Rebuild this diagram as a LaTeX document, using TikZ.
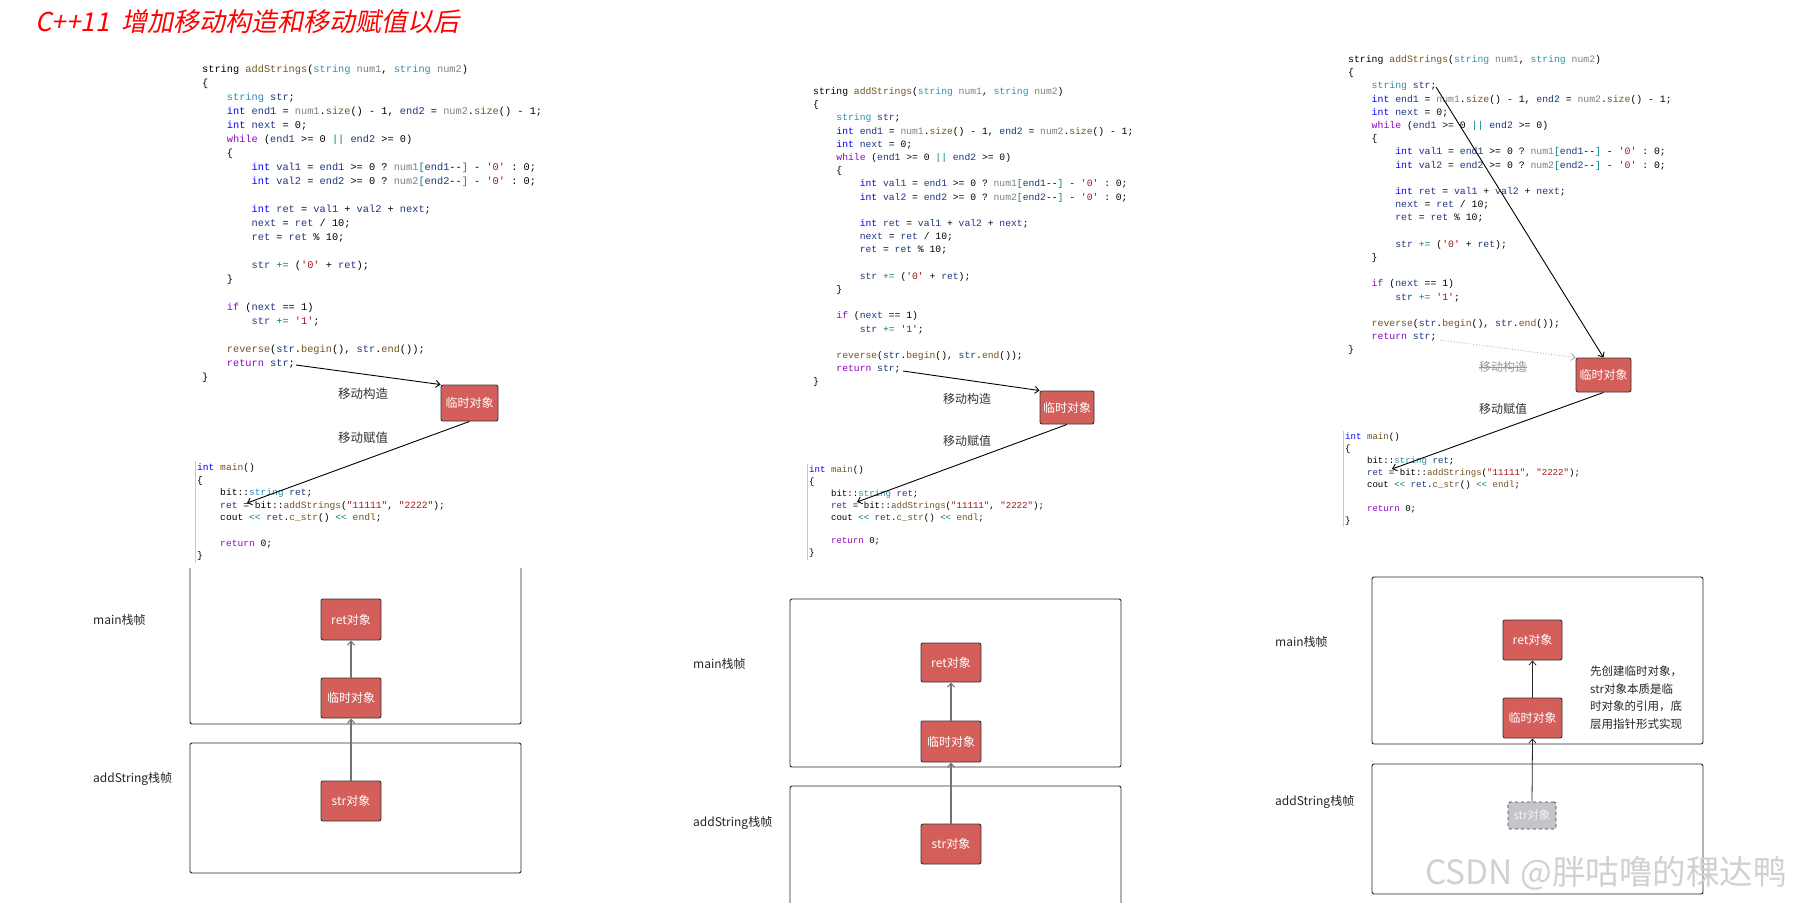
\documentclass[tikz,border=0pt]{standalone}
\usepackage{fontspec}
\setmainfont{Noto Sans CJK SC}
\setmonofont{Liberation Mono}
\newfontfamily\titlefont{Noto Sans CJK SC}[FakeSlant=0.2]
\usetikzlibrary{arrows.meta}
\definecolor{kwblue}{HTML}{0000FF}
\definecolor{kwpurple}{HTML}{8F08C4}
\definecolor{typeteal}{HTML}{2B91AF}
\definecolor{paramgray}{HTML}{808080}
\definecolor{fnbrown}{HTML}{74531F}
\definecolor{localnavy}{HTML}{1F377F}
\definecolor{strred}{HTML}{A31515}
\definecolor{opteal}{HTML}{008080}
\definecolor{boxred}{HTML}{D45E5A}
\definecolor{ghostfill}{HTML}{C4C5CA}
\newcommand\ckw[1]{\textcolor{kwblue}{#1}}
\newcommand\cct[1]{\textcolor{kwpurple}{#1}}
\newcommand\cty[1]{\textcolor{typeteal}{#1}}
\newcommand\cpa[1]{\textcolor{paramgray}{#1}}
\newcommand\cfn[1]{\textcolor{fnbrown}{#1}}
\newcommand\cva[1]{\textcolor{localnavy}{#1}}
\newcommand\cst[1]{\textcolor{strred}{#1}}
\newcommand\cop[1]{\textcolor{opteal}{#1}}
\newcommand\tb{\hphantom{xxxx}}
\newcommand\tbb{\hphantom{xxxxxxxx}}
\newcommand\addstrcode{%
\begin{tabular}[t]{@{}l@{}}
string \cfn{addStrings}(\cty{string} \cpa{num1}, \cty{string} \cpa{num2})\\
\{\\
\tb\cty{string} \cva{str};\\
\tb\ckw{int} \cva{end1} = \cpa{num1}.\cfn{size}() - 1, \cva{end2} = \cpa{num2}.\cfn{size}() - 1;\\
\tb\ckw{int} \cva{next} = 0;\\
\tb\cct{while} (\cva{end1} >= 0 \cop{||} \cva{end2} >= 0)\\
\tb\{\\
\tbb\ckw{int} \cva{val1} = \cva{end1} >= 0 ? \cpa{num1}\cop{[}\cva{end1}-{}-\cop{]} - \cst{'0'} : 0;\\
\tbb\ckw{int} \cva{val2} = \cva{end2} >= 0 ? \cpa{num2}\cop{[}\cva{end2}-{}-\cop{]} - \cst{'0'} : 0;\\
~\\
\tbb\ckw{int} \cva{ret} = \cva{val1} + \cva{val2} + \cva{next};\\
\tbb\cva{next} = \cva{ret} / 10;\\
\tbb\cva{ret} = \cva{ret} \% 10;\\
~\\
\tbb\cva{str} \cop{+=} (\cst{'0'} + \cva{ret});\\
\tb\}\\
~\\
\tb\cct{if} (\cva{next} == 1)\\
\tbb\cva{str} \cop{+=} \cst{'1'};\\
~\\
\tb\cfn{reverse}(\cva{str}.\cfn{begin}(), \cva{str}.\cfn{end}());\\
\tb\cct{return} \cva{str};\\
\}
\end{tabular}}
\newcommand\maincode{%
\begin{tabular}[t]{@{}l@{}}
\ckw{int} \cfn{main}()\\
\{\\
\tb bit::\cty{string} \cva{ret};\\
\tb\cva{ret} = bit::\cfn{addStrings}(\cst{"11111"}, \cst{"2222"});\\
\tb cout \cop{<<} \cva{ret}.\cfn{c\_str}() \cop{<<} \cfn{endl};\\
~\\
\tb\cct{return} 0;\\
\}
\end{tabular}}
\tikzset{
  codeblk/.style={anchor=base west, inner sep=0pt, text=black},
  lbl/.style={inner sep=0pt, text=black!80, font=\fontsize{12.5}{14}\selectfont},
  framelbl/.style={anchor=west, inner sep=0pt, text=black!85, font=\fontsize{12}{14}\selectfont},
  redbox/.style={draw=black!80, fill=boxred, rounded corners=2pt, text=white,
    font=\fontsize{12}{14}\selectfont, inner sep=0pt, line width=0.9pt},
  ghostbox/.style={draw=black!75, dashed, fill=ghostfill, rounded corners=2pt, text=white!95!black,
    font=\fontsize{11.5}{14}\selectfont, inner sep=0pt, line width=0.8pt},
  framest/.style={draw=black!85, line width=0.9pt, rounded corners=2pt},
  guide/.style={draw=black!22, line width=0.6pt},
  movearrow/.style={draw=black, line width=0.9pt, -{Straight Barb[length=4pt,width=7pt]}},
  ghostarrow/.style={draw=black!35, line width=0.8pt, dotted, -{Straight Barb[length=4pt,width=7pt]}},
  grayarrow/.style={draw=black!55, line width=1.6pt, -{Straight Barb[length=4pt,width=7pt,line width=1pt]}},
  thinarrow/.style={draw=black!85, line width=0.8pt, -{Straight Barb[length=4pt,width=7pt]}},
}
\begin{document}
\begin{tikzpicture}[x=1pt,y=-1pt]
\useasboundingbox[fill=white] (0,0) rectangle (1817,902);

% title
\node[anchor=west, inner sep=0pt, text=red, font=\titlefont\fontsize{26}{30}\selectfont] (title) at (35,22) {C++11\hspace{12pt}增加移动构造和移动赋值以后};

% ---------------- panel 1 ----------------
\node[codeblk, font=\ttfamily\frenchspacing\fontsize{10.3}{14}\selectfont] (code1) at (202,72.6) {\addstrcode};
\node[codeblk, font=\ttfamily\frenchspacing\fontsize{9.6}{12.6}\selectfont] (main1) at (197,470.5) {\maincode};
\draw[guide] ([xshift=-2pt]main1.north west) -- ([xshift=-2pt]main1.south west);
\node[redbox, minimum width=57pt, minimum height=36pt] (tmp1) at (469.5,403) {临时对象};
\node[lbl] (mc1) at (363,394) {移动构造};
\node[lbl] (ma1) at (363,438) {移动赋值};
\coordinate (r1) at (296,365);
\coordinate (e1) at (247,503);
\draw[movearrow] (r1) -- (tmp1.north west);
\draw[movearrow] (tmp1.south) -- (e1);

\draw[framest] (190,568) -- (190,724) -- (521,724) -- (521,568);
\draw[framest] (190,743) rectangle (521,873);
\node[framelbl] (mf1) at (93,620) {main栈帧};
\node[framelbl] (af1) at (93,779) {addString栈帧};
\node[redbox, minimum width=60pt, minimum height=41pt] (ret1) at (351,619.5) {ret对象};
\node[redbox, minimum width=60pt, minimum height=40pt] (t1) at (351,698) {临时对象};
\node[redbox, minimum width=60pt, minimum height=40pt] (s1) at (351,801) {str对象};
\draw[grayarrow] (t1.north) -- (ret1.south);
\draw[grayarrow] (s1.north) -- (t1.south);

% ---------------- panel 2 ----------------
\node[codeblk, font=\ttfamily\frenchspacing\fontsize{9.7}{13.2}\selectfont] (code2) at (813,94.5) {\addstrcode};
\node[codeblk, font=\ttfamily\frenchspacing\fontsize{9.1}{11.9}\selectfont] (main2) at (809,472.5) {\maincode};
\draw[guide] ([xshift=-2pt]main2.north west) -- ([xshift=-2pt]main2.south west);
\node[redbox, minimum width=54pt, minimum height=33pt] (tmp2) at (1067,407.5) {临时对象};
\node[lbl, font=\fontsize{12}{14}\selectfont] (mc2) at (967,399) {移动构造};
\node[lbl, font=\fontsize{12}{14}\selectfont] (ma2) at (967,441) {移动赋值};
\coordinate (r2) at (903,371);
\coordinate (e2) at (857,502);
\draw[movearrow] (r2) -- (tmp2.north west);
\draw[movearrow] (tmp2.south) -- (e2);

\draw[framest] (790,599) rectangle (1121,767);
\draw[framest] (790,910) -- (790,786) -- (1121,786) -- (1121,910);
\node[framelbl] (mf2) at (693,664) {main栈帧};
\node[framelbl] (af2) at (693,823) {addString栈帧};
\node[redbox, minimum width=60pt, minimum height=39pt] (ret2) at (951,662.5) {ret对象};
\node[redbox, minimum width=60pt, minimum height=41pt] (t2) at (951,741.5) {临时对象};
\node[redbox, minimum width=60pt, minimum height=40pt] (s2) at (951,844) {str对象};
\draw[grayarrow] (t2.north) -- (ret2.south);
\draw[grayarrow] (s2.north) -- (t2.south);

% ---------------- panel 3 ----------------
\node[codeblk, font=\ttfamily\frenchspacing\fontsize{9.8}{13.2}\selectfont] (code3) at (1348,62.5) {\addstrcode};
\node[codeblk, font=\ttfamily\frenchspacing\fontsize{9.1}{12}\selectfont] (main3) at (1345,439.5) {\maincode};
\draw[guide] ([xshift=-2pt]main3.north west) -- ([xshift=-2pt]main3.south west);
\node[redbox, minimum width=55pt, minimum height=34pt] (tmp3) at (1603.5,375) {临时对象};
\node[lbl, font=\fontsize{12}{14}\selectfont, text=black!40] (mc3) at (1503,367) {移动构造};
\draw[black!40, line width=0.8pt] (mc3.west) -- (mc3.east);
\node[lbl, font=\fontsize{12}{14}\selectfont] (ma3) at (1503,409) {移动赋值};
\coordinate (s3start) at (1436,87);
\coordinate (r3) at (1440,340);
\coordinate (e3) at (1392,469);
\draw[movearrow] (s3start) -- (tmp3.north);
\draw[ghostarrow] (r3) -- (tmp3.north west);
\draw[movearrow] (tmp3.south) -- (e3);

\draw[framest] (1372,577) rectangle (1703,744);
\draw[framest] (1372,764) rectangle (1703,894);
\node[framelbl] (mf3) at (1275,642) {main栈帧};
\node[framelbl] (af3) at (1275,802) {addString栈帧};
\node[redbox, minimum width=59pt, minimum height=40pt] (ret3) at (1532.5,640) {ret对象};
\node[redbox, minimum width=59pt, minimum height=40pt] (t3) at (1532.5,718) {临时对象};
\node[ghostbox, minimum width=48pt, minimum height=27pt] (s3) at (1532,815.5) {str对象};
\draw[thinarrow] (t3.north) -- (ret3.south);
\draw[thinarrow] (s3.north) -- (t3.south);
\node[anchor=base west, inner sep=0pt, text=black!85, font=\fontsize{11.5}{17.5}\selectfont] (note3) at (1590,675.5)
  {\begin{tabular}[t]{@{}l@{}}先创建临时对象，\\str对象本质是临\\时对象的引用，底\\层用指针形式实现\end{tabular}};

% watermark
\node[anchor=base west, inner sep=0pt, text=black!18, font=\fontsize{33.5}{36}\selectfont] (wm) at (1425,884) {CSDN @胖咕噜的稞达鸭};
\end{tikzpicture}
\end{document}
